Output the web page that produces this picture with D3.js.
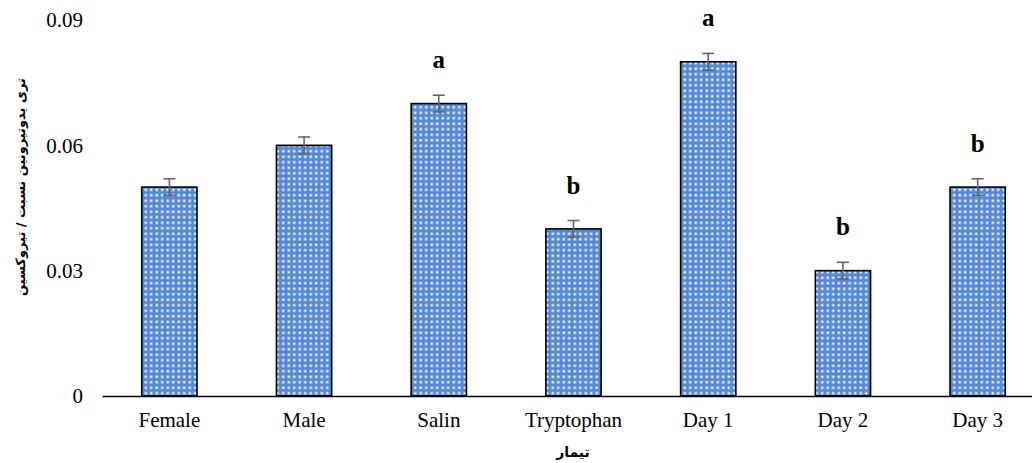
<!DOCTYPE html>
<html>
<head>
<meta charset="utf-8">
<script src="https://d3js.org/d3.v7.min.js"></script>
<style>
  body { margin: 0; background: #fff; }
  svg { display: block; }
</style>
</head>
<body>
<div id="chart"></div>
<script>
// data
var categories = ["Female", "Male", "Salin", "Tryptophan", "Day 1", "Day 2", "Day 3"];
var values = [0.05, 0.06, 0.07, 0.04, 0.08, 0.03, 0.05];
var errors = [0.002, 0.002, 0.002, 0.002, 0.002, 0.002, 0.002];
var letters = ["", "", "a", "b", "a", "b", "b"];
var yTicks = [0, 0.03, 0.06, 0.09];

var width = 1032, height = 463;

var svg = d3.select("#chart").append("svg")
    .attr("width", width)
    .attr("height", height);

// dotted blue fill like the excel pattern
var defs = svg.append("defs");
var pat = defs.append("pattern")
    .attr("id", "dots")
    .attr("patternUnits", "userSpaceOnUse")
    .attr("width", 5.5)
    .attr("height", 5.5);
pat.append("rect").attr("width", 5.5).attr("height", 5.5).attr("fill", "#5689d4");
pat.append("rect").attr("x", 1.5).attr("y", 1.5).attr("width", 2.5).attr("height", 2.5)
    .attr("fill", "#e8f0fc");

var x = d3.scaleBand()
    .domain(categories)
    .range([102, 1045])
    .paddingInner(0.59)
    .paddingOuter(0.295);

var y = d3.scaleLinear()
    .domain([0, 0.09])
    .range([396, 20]);

// y tick labels (no axis line)
var yAxis = svg.append("g")
    .attr("transform", "translate(102,0)")
    .call(d3.axisLeft(y).tickValues(yTicks).tickSize(0).tickPadding(19)
        .tickFormat(function(d) { return d === 0 ? "0" : d3.format(".2f")(d); }));
yAxis.select(".domain").remove();
yAxis.selectAll("text")
    .style("font-family", "'Liberation Serif', 'Times New Roman', serif")
    .style("font-size", "21px")
    .attr("fill", "#000");

// bars
svg.selectAll(".bar")
    .data(values)
    .enter()
    .append("rect")
    .attr("class", "bar")
    .attr("x", function(d, i) { return x(categories[i]); })
    .attr("y", function(d) { return y(d); })
    .attr("width", x.bandwidth())
    .attr("height", function(d) { return y(0) - y(d); })
    .attr("fill", "url(#dots)")
    .attr("stroke", "#000")
    .attr("stroke-width", 1.6);

// error bars
var eb = svg.selectAll(".err")
    .data(values)
    .enter()
    .append("g")
    .attr("class", "err")
    .attr("stroke", "#666")
    .attr("stroke-width", 1.6);
eb.append("line")
    .attr("x1", function(d, i) { return x(categories[i]) + x.bandwidth() / 2; })
    .attr("x2", function(d, i) { return x(categories[i]) + x.bandwidth() / 2; })
    .attr("y1", function(d, i) { return y(d + errors[i]); })
    .attr("y2", function(d, i) { return y(d - errors[i]); });
eb.append("line")
    .attr("x1", function(d, i) { return x(categories[i]) + x.bandwidth() / 2 - 6; })
    .attr("x2", function(d, i) { return x(categories[i]) + x.bandwidth() / 2 + 6; })
    .attr("y1", function(d, i) { return y(d + errors[i]); })
    .attr("y2", function(d, i) { return y(d + errors[i]); });
eb.append("line")
    .attr("x1", function(d, i) { return x(categories[i]) + x.bandwidth() / 2 - 6; })
    .attr("x2", function(d, i) { return x(categories[i]) + x.bandwidth() / 2 + 6; })
    .attr("y1", function(d, i) { return y(d - errors[i]); })
    .attr("y2", function(d, i) { return y(d - errors[i]); });

// significance letters
svg.selectAll(".letter")
    .data(values)
    .enter()
    .append("text")
    .attr("x", function(d, i) { return x(categories[i]) + x.bandwidth() / 2; })
    .attr("y", function(d, i) { return y(d + errors[i]) - 27; })
    .attr("text-anchor", "middle")
    .style("font-family", "'Liberation Serif', 'Times New Roman', serif")
    .style("font-size", "25px")
    .style("font-weight", "bold")
    .text(function(d, i) { return letters[i]; });

// x axis
var xAxis = svg.append("g")
    .attr("transform", "translate(0,396)")
    .call(d3.axisBottom(x).tickSize(0).tickPadding(16));
xAxis.select(".domain").attr("stroke", "#000").attr("stroke-width", 1.6);
xAxis.selectAll("text")
    .style("font-family", "'Liberation Serif', 'Times New Roman', serif")
    .style("font-size", "21px")
    .attr("fill", "#000");

// axis titles
svg.append("text")
    .attr("x", 573)
    .attr("y", 457)
    .attr("text-anchor", "middle")
    .style("font-family", "'DejaVu Sans', 'Noto Sans', sans-serif")
    .style("font-size", "14px")
    .style("font-weight", "bold")
    .text("تیمار");

svg.append("text")
    .attr("transform", "translate(25,187) rotate(-90)")
    .attr("text-anchor", "middle")
    .attr("direction", "rtl")
    .style("font-family", "'DejaVu Sans', 'Noto Sans', sans-serif")
    .style("font-size", "13px")
    .style("font-weight", "bold")
    .text("تری یدوتیرونین نسبت / تیروکسین");
</script>
</body>
</html>
